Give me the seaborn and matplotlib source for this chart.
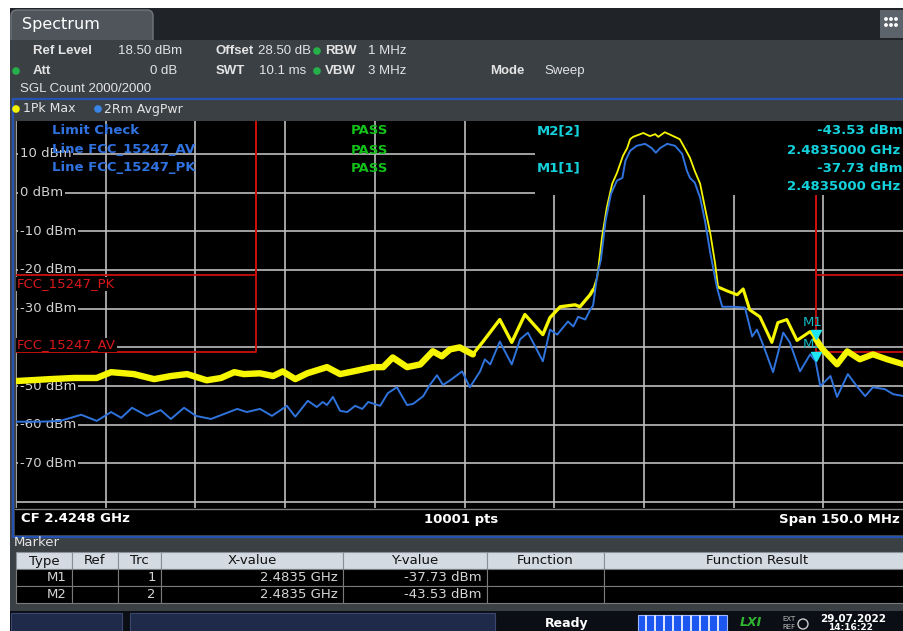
import numpy as np
import pandas as pd
import matplotlib
matplotlib.use("Agg")
import matplotlib.pyplot as plt
import matplotlib.patches as mpatches
import matplotlib.transforms as mtransforms
import seaborn as sns

sns.set_theme(style="dark")
plt.rcParams['font.family'] = ['DejaVu Sans']

# sweep settings (MHz / dBm)
F_START = 2349.8
F_STOP = 2499.8
REF_LEVEL = 18.5
BOTTOM_LEVEL = -81.5
N_POINTS = 10001

# trace 1: Pk Max (yellow)
pk_freq = [2349.8, 2352.1, 2355.5, 2359.5, 2363.3, 2365.7, 2369.5, 2372.9, 2375.7, 2378.4,
           2381.7, 2384.1, 2386.3, 2387.9, 2390.6, 2392.8, 2394.4, 2396.5, 2398.5, 2401.8,
           2404.0, 2406.2, 2409.5, 2411.2, 2412.8, 2415.2, 2417.4, 2419.5, 2421.0, 2422.4,
           2424.0, 2426.2, 2427.9, 2430.7, 2432.7, 2434.9, 2436.1, 2437.9, 2439.1, 2440.8,
           2443.3, 2444.1, 2445.8, 2446.3, 2447.0, 2447.8, 2448.6, 2449.5, 2450.3, 2451.3,
           2452.0, 2452.5, 2453.0, 2454.7, 2455.8, 2456.7, 2457.2, 2458.3, 2459.7, 2460.8,
           2461.7, 2462.5, 2463.3, 2464.2, 2465.0, 2465.9, 2466.7, 2467.2, 2468.7, 2470.4,
           2471.4, 2472.5, 2474.2, 2476.2, 2477.2, 2478.7, 2480.4, 2482.6, 2483.5, 2484.7,
           2487.1, 2488.8, 2490.9, 2493.1, 2495.5, 2498.3, 2499.8]
pk_level = [-48.7, -48.5, -48.2, -47.9, -47.9, -46.4, -46.9, -48.2, -47.4, -46.9,
            -48.5, -47.9, -46.4, -46.9, -46.7, -47.4, -46.2, -48.2, -46.7, -45.1,
            -46.9, -46.2, -45.1, -45.1, -42.6, -45.1, -44.4, -41.0, -42.3, -40.5,
            -40.0, -41.8, -38.5, -32.8, -38.7, -31.5, -33.6, -36.7, -32.3, -29.5,
            -29.0, -29.5, -26.4, -25.1, -21.8, -11.5, -3.8, 2.3, 5.1, 9.5,
            11.5, 13.8, 14.4, 15.4, 14.6, 15.1, 14.4, 15.6, 14.6, 13.8,
            11.3, 9.0, 5.6, 2.3, -3.8, -10.5, -18.2, -24.4, -25.4, -26.4,
            -24.9, -30.3, -32.1, -38.7, -33.6, -32.8, -38.2, -35.9, -37.73, -40.5,
            -44.4, -41.0, -43.1, -41.8, -43.1, -44.4, -44.6]

# trace 2: RMS AvgPwr (blue)
avg_freq = [2349.8, 2353.8, 2357.2, 2360.7, 2363.3, 2365.7, 2367.4, 2369.2, 2371.7, 2374.0,
            2375.7, 2377.9, 2379.9, 2382.4, 2384.6, 2386.8, 2388.4, 2390.6, 2392.6, 2395.1,
            2396.5, 2398.6, 2400.1, 2401.1, 2401.8, 2402.8, 2404.0, 2405.2, 2406.5, 2407.7,
            2408.7, 2410.7, 2412.0, 2413.5, 2415.2, 2416.2, 2417.9, 2419.0, 2420.2, 2421.2,
            2422.4, 2424.4, 2425.7, 2427.4, 2428.2, 2429.1, 2430.7, 2432.7, 2434.1, 2435.4,
            2436.6, 2437.9, 2439.1, 2440.3, 2442.1, 2443.0, 2443.8, 2445.0, 2445.8, 2446.3,
            2447.0, 2447.6, 2448.4, 2449.3, 2450.3, 2451.2, 2451.7, 2452.5, 2453.6, 2455.0,
            2456.1, 2456.8, 2457.5, 2458.7, 2460.0, 2461.2, 2462.0, 2462.5, 2463.3, 2464.2,
            2465.0, 2465.9, 2467.0, 2467.9, 2469.7, 2471.7, 2472.9, 2473.7, 2474.7, 2476.4,
            2478.1, 2479.2, 2480.9, 2482.6, 2483.5, 2484.3, 2486.0, 2487.1, 2488.9, 2490.4,
            2491.8, 2493.1, 2495.1, 2496.5, 2498.3, 2499.8]
avg_level = [-59.2, -59.2, -59.0, -57.4, -59.0, -56.7, -58.2, -55.6, -57.7, -56.2,
             -58.5, -55.6, -57.7, -58.5, -57.2, -55.9, -56.7, -55.9, -57.7, -55.1,
             -57.9, -53.8, -55.4, -54.1, -54.9, -52.8, -56.4, -56.7, -55.1, -55.9,
             -54.1, -55.1, -51.8, -50.3, -54.9, -54.6, -52.6, -49.7, -47.2, -49.7,
             -48.5, -46.2, -50.3, -46.2, -43.1, -44.4, -38.5, -44.4, -37.9, -36.2,
             -39.7, -43.6, -35.4, -36.7, -33.3, -34.6, -32.1, -32.8, -30.3, -29.2,
             -21.3, -17.4, -7.2, -0.3, 3.1, 3.8, 8.2, 10.8, 12.1, 12.6,
             11.5, 10.3, 11.5, 12.6, 12.1, 10.0, 5.6, 3.8, 2.6, -1.3,
             -7.2, -15.6, -24.4, -29.5, -29.5, -29.7, -37.2, -35.4, -39.2, -46.4,
             -36.2, -38.7, -46.2, -41.8, -43.53, -50.0, -47.4, -52.8, -46.9, -50.0,
             -52.6, -50.3, -50.8, -52.1, -52.6, -52.8]

# FCC 15.247 restricted band limits
limit_pk = -21.23
limit_av = -41.23
band_lo = 2390.0
band_hi = 2483.5

# markers
marker_names = ["M1", "M2"]
marker_trace = [1, 2]
marker_freq = [2483.5, 2483.5]
marker_level = [-37.73, -43.53]

y_grid = [10, 0, -10, -20, -30, -40, -50, -60, -70, -80]
y_labels = [10, 0, -10, -20, -30, -50, -60, -70]   # -40 sits under the AV limit label

pk_df = pd.DataFrame({"freq": pk_freq, "level": pk_level})
avg_df = pd.DataFrame({"freq": avg_freq, "level": avg_level})

W, H = 904, 631
fig = plt.figure(figsize=(W / 100, H / 100), dpi=100)
fig.patch.set_facecolor("white")

bg = fig.add_axes([0, 0, 1, 1], zorder=0)
bg.set_xlim(0, W)
bg.set_ylim(H, 0)
bg.axis("off")

ax = fig.add_axes([16 / W, 1 - 508 / H, 897 / W, 387 / H], zorder=1)
ax.set_facecolor("black")
ax.set_xlim(F_START, F_STOP)
ax.set_ylim(BOTTOM_LEVEL, REF_LEVEL)

PX = bg.transData
TXT = "#e4e4e4"
FS = 9.5


def box(x0, y0, x1, y1, fc, ec="none", lw=0, z=1, on=None):
    (on or bg).add_patch(mpatches.Rectangle((x0, y0), x1 - x0, y1 - y0, facecolor=fc,
                                            edgecolor=ec, linewidth=lw, zorder=z, transform=PX))


def dot(x, y, c):
    bg.add_patch(mpatches.Circle((x, y), 3.8, facecolor=c, edgecolor="none", zorder=3))


# ---- window chrome ----
box(10, 8, W, H, "#3b4045")
box(10, 8, W, 40, "#202428")
bg.add_patch(mpatches.FancyBboxPatch((11, 10), 142, 36, boxstyle="round,pad=0,rounding_size=6",
                                     facecolor="#4f555b", edgecolor="#70767c", lw=1, zorder=2))
box(10, 40, W, 99, "#3b4045", z=2.5)
box(880, 10, W, 38, "#5d636a", z=3)
for yy in (19, 25):
    for xx in (886, 891, 896):
        bg.add_patch(mpatches.Circle((xx, yy), 1.2, facecolor="white", zorder=4))
bg.text(22, 25, "Spectrum", color="white", fontsize=11.5, va="center", zorder=3)

# header
hdr = [
    (33, 51, "Ref Level", "bold", "left"), (118, 51, "18.50 dBm", "normal", "left"),
    (216, 51, "Offset", "bold", "left"), (311, 51, "28.50 dB", "normal", "right"),
    (325, 51, "RBW", "bold", "left"), (368, 51, "1 MHz", "normal", "left"),
    (33, 71, "Att", "bold", "left"), (177, 71, "0 dB", "normal", "right"),
    (216, 71, "SWT", "bold", "left"), (306, 71, "10.1 ms", "normal", "right"),
    (325, 71, "VBW", "bold", "left"), (368, 71, "3 MHz", "normal", "left"),
    (490, 71, "Mode", "bold", "left"), (544, 71, "Sweep", "normal", "left"),
    (20, 89, "SGL Count 2000/2000", "normal", "left"),
]
for x, y, s, w, ha in hdr:
    bg.text(x, y, s, color=TXT, fontsize=9.5, fontweight=w, ha=ha, va="center", zorder=3,
            family=["Liberation Sans", "DejaVu Sans"])
for x, y in ((317, 51), (16, 71), (317, 71)):
    dot(x, y, "#25b04a")

# display frame
box(13, 99, 910, 537, "#3b4045", ec="#2453b3", lw=1.6, z=2.6)
box(15, 508, 910, 535, "black", z=2.7)
bg.plot([15, 910], [509, 509], color="#7c7c7c", lw=1, zorder=2.8)
dot(16, 109, "#f4f400")
bg.text(23, 109, "1Pk Max", color=TXT, fontsize=9, va="center", zorder=3)
dot(98, 109, "#3a86e8")
bg.text(104, 109, "2Rm AvgPwr", color=TXT, fontsize=9, va="center", zorder=3)

cf = (F_START + F_STOP) / 2 / 1000
span = F_STOP - F_START
bg.text(21, 519, f"CF {cf:.4f} GHz", color="white", fontsize=FS, fontweight="bold", va="center", zorder=3)
bg.text(461, 519, f"{N_POINTS} pts", color="white", fontsize=FS, fontweight="bold", ha="center",
        va="center", zorder=3)
bg.text(900, 519, f"Span {span:.1f} MHz", color="white", fontsize=FS, fontweight="bold", ha="right",
        va="center", zorder=3)

# ---- spectrum plot ----
ax.set_xticks(np.arange(F_START, F_STOP + 1, 15))
ax.set_yticks(y_grid)
ax.grid(True, color="#bdbdbd", lw=1.2)
ax.tick_params(length=0, labelbottom=False, labelleft=False)
for sp in ax.spines.values():
    sp.set_visible(False)

lbl_tr = mtransforms.blended_transform_factory(PX, ax.transData)
for v in y_labels:
    ax.text(20, v, f"{v} dBm", transform=lbl_tr, color="#d2d2d2", fontsize=FS, va="center",
            zorder=2.1, bbox=dict(facecolor="black", edgecolor="none", pad=1.2))

# limit lines
lim_col = "#cc0f0f"
for lv in (limit_pk, limit_av):
    ax.plot([F_START, band_lo, band_lo], [lv, lv, REF_LEVEL + 5], color=lim_col, lw=1.3, zorder=2.2)
    ax.plot([F_STOP + 5, band_hi, band_hi], [lv, lv, REF_LEVEL + 5], color=lim_col, lw=1.3, zorder=2.2)
ax.text(17, 284, "FCC_15247_PK", transform=PX, color="#d8181a", fontsize=FS, va="center", zorder=2.3,
        bbox=dict(facecolor="black", edgecolor="none", pad=0.4))
ax.text(17, 345, "FCC_15247_AV", transform=PX, color="#d8181a", fontsize=FS, va="center", zorder=2.3,
        bbox=dict(facecolor="black", edgecolor="none", pad=0.4))

# marker info panel (covers grid)
box(535, 121, 920, 195, "black", z=2.4, on=ax)

# limit check
blue_txt = "#2f72e0"
green_txt = "#12c21a"
ax.text(52, 131, "Limit Check", transform=PX, color=blue_txt, fontsize=FS, fontweight="bold",
        va="center", zorder=2.5)
ax.text(52, 150, "Line FCC_15247_AV", transform=PX, color=blue_txt, fontsize=FS, fontweight="bold",
        va="center", zorder=2.5)
ax.text(52, 168, "Line FCC_15247_PK", transform=PX, color=blue_txt, fontsize=FS, fontweight="bold",
        va="center", zorder=2.5)
for y in (131, 150, 168):
    ax.text(351, y, "PASS", transform=PX, color=green_txt, fontsize=FS, fontweight="bold",
            va="center", zorder=2.5)

# traces
yel = "#f6f600"
for lo, hi, lw in ((F_START, 2426.5, 4.6), (2426.0, 2446.5, 2.4), (2446.0, 2468.0, 1.3),
                   (2467.2, 2483.6, 2.2), (2483.5, F_STOP, 4.4)):
    seg = pk_df[(pk_df["freq"] >= lo) & (pk_df["freq"] <= hi)]
    sns.lineplot(data=seg, x="freq", y="level", ax=ax, color=yel, lw=lw, sort=False,
                 estimator=None, legend=False, zorder=3)
sns.lineplot(data=avg_df, x="freq", y="level", ax=ax, color="#2f73dc", lw=1.4, sort=False,
             estimator=None, legend=False, zorder=3.2)

# markers
cyan = "#14d2dc"
tri = [(0, 0), (-0.55, 1), (0.55, 1), (0, 0)]
ax.plot(marker_freq, marker_level, ls="none", marker=tri, ms=13, color="#1fe6f0", zorder=4)
ax.text(803, 322, "M1", transform=PX, color="#12b8c4", fontsize=FS, va="center", zorder=2.6)
ax.text(803, 345, "M2", transform=PX, color="#12b8c4", fontsize=FS, va="center", zorder=2.6)

rows_y = [(131, 150), (168, 187)]
for i, (ya, yb) in zip((1, 0), rows_y):
    ax.text(537, ya, f"{marker_names[i]}[{marker_trace[i]}]", transform=PX, color=cyan, fontsize=FS,
            fontweight="bold", va="center", zorder=5)
    ax.text(817, ya, f"{marker_level[i]:.2f} dBm", transform=PX, color=cyan, fontsize=FS,
            fontweight="bold", va="center", zorder=5)
    ax.text(787, yb, f"{marker_freq[i] / 1000:.7f} GHz", transform=PX, color=cyan, fontsize=FS,
            fontweight="bold", va="center", zorder=5)

ax.set_xlabel("")
ax.set_ylabel("")
ax.set_xlim(F_START, F_STOP)
ax.set_ylim(BOTTOM_LEVEL, REF_LEVEL)

# ---- marker table ----
bg.text(14, 542, "Marker", color=TXT, fontsize=FS, va="center", zorder=3)
cols = [16, 72, 118, 161, 343, 487, 604, 910]
heads = ["Type", "Ref", "Trc", "X-value", "Y-value", "Function", "Function Result"]
for c0, c1, h in zip(cols[:-1], cols[1:], heads):
    box(c0, 552, c1, 569, "#d3dae2", ec="#8a9099", lw=0.8, z=3)
    bg.text((c0 + c1) / 2, 561, h, color="#111111", fontsize=FS, ha="center", va="center", zorder=4)
for r in range(len(marker_names)):
    y0 = 569 + r * 17
    cells = [marker_names[r], "", str(marker_trace[r]), f"{marker_freq[r] / 1000:.4f} GHz",
             f"{marker_level[r]:.2f} dBm", "", ""]
    for c0, c1, s in zip(cols[:-1], cols[1:], cells):
        box(c0, y0, c1, y0 + 17, "black", ec="#7a7a7a", lw=0.8, z=3)
        bg.text(c1 - 5, y0 + 8.5, s, color="#d6d6d6", fontsize=FS, ha="right", va="center", zorder=4)

# ---- status bar ----
box(10, 611, W, H, "#0b0e15", z=3)
box(11, 613, 122, H, "#1f2a4a", ec="#3a4870", lw=0.8, z=3.1)
box(130, 613, 495, H, "#1f2a4a", ec="#3a4870", lw=0.8, z=3.1)
bg.text(567, 624, "Ready", color="white", fontsize=9, fontweight="bold", ha="center", va="center", zorder=4)
box(638, 615, 727, H, "#1b56f0", ec="#9fb8ff", lw=0.8, z=3.1)
for xx in np.arange(646, 727, 9):
    bg.plot([xx, xx], [616, H], color="white", lw=1.2, zorder=3.2)
bg.text(740, 623, "LXI", color="#2fb52f", fontsize=9, fontweight="bold", style="italic", va="center", zorder=4)
bg.text(782, 619, "EXT", color="#bbbbbb", fontsize=5, va="center", zorder=4)
bg.text(782, 627, "REF", color="#bbbbbb", fontsize=5, va="center", zorder=4)
bg.add_patch(mpatches.Circle((803, 624), 5, facecolor="none", edgecolor="#cccccc", lw=1, zorder=4))
bg.text(820, 619, "29.07.2022", color="white", fontsize=7.5, fontweight="bold", va="center", zorder=4)
bg.text(828, 628, "14:16:22", color="white", fontsize=6.5, fontweight="bold", va="center", zorder=4)

fig.savefig("out.png", dpi=100, facecolor=fig.get_facecolor())
